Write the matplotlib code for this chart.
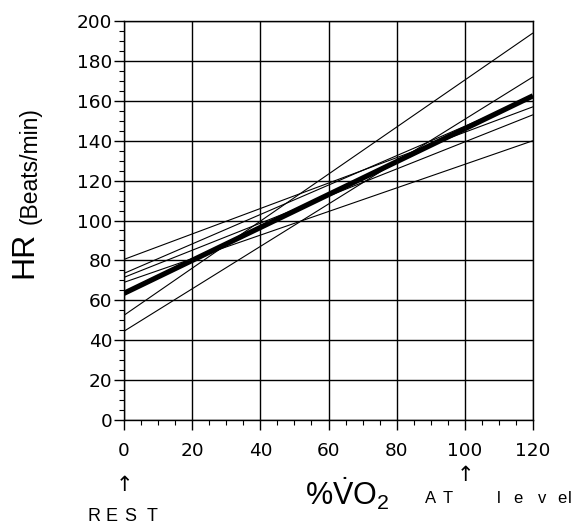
import matplotlib
matplotlib.use("Agg")
import matplotlib.pyplot as plt
from matplotlib.ticker import MultipleLocator

plt.rcParams['font.family'] = ['Liberation Sans', 'DejaVu Sans']
plt.rcParams['mathtext.fontset'] = 'custom'
plt.rcParams['mathtext.rm'] = 'Liberation Sans'
plt.rcParams['mathtext.it'] = 'Liberation Sans'

# %VO2 range of the regression lines (REST to 120 %)
x_range = [0, 120]
# individual regression lines: HR at 0 % and at 120 %
individual_start = [80.5, 73.5, 71.5, 69, 52.5, 44.5]
individual_end = [157, 162, 153, 140, 194, 172]
# mean regression line
mean_start = 63.5
mean_end = 162.5

x_ticks = [0, 20, 40, 60, 80, 100, 120]
y_ticks = [0, 20, 40, 60, 80, 100, 120, 140, 160, 180, 200]

W, H = 573, 526
fig = plt.figure(figsize=(W / 100, H / 100), dpi=100)
ax = fig.add_axes([124 / W, 1 - 420 / H, (533 - 124) / W, (420 - 21) / H])

for s, e in zip(individual_start, individual_end):
    ax.plot(x_range, [s, e], color='black', lw=0.8, solid_capstyle='butt')
ax.plot(x_range, [mean_start, mean_end], color='black', lw=3.8, solid_capstyle='butt')

ax.set_xlim(0, 120)
ax.set_ylim(0, 200)
ax.set_xticks(x_ticks)
ax.set_yticks(y_ticks)
ax.xaxis.set_minor_locator(MultipleLocator(5))
ax.yaxis.set_minor_locator(MultipleLocator(5))
ax.grid(True, which='major', color='black', lw=1.0)
ax.tick_params(which='major', direction='out', length=7, width=1)
ax.tick_params(axis='x', which='major', pad=9)
ax.tick_params(axis='y', which='major', pad=1.5)
ax.tick_params(which='minor', direction='out', length=3.5, width=0.8)
for lab in ax.get_xticklabels() + ax.get_yticklabels():
    lab.set_fontfamily('DejaVu Sans')
    lab.set_fontsize(13.3)
for sp in ax.spines.values():
    sp.set_linewidth(1.0)

# Y label
fig.text(32 / W, 1 - 278 / H, 'HR', rotation=90, rotation_mode='anchor', ha='left',
         va='baseline', fontsize=23)
fig.text(37 / W, 1 - 224 / H, '(Beats/min)', rotation=90, rotation_mode='anchor', ha='left',
         va='baseline', fontsize=16.5)

# X label
fig.text(305 / W, 1 - 505 / H, r'$\%\dot{\mathrm{V}}\mathrm{O}_2$', fontsize=22,
         ha='left', va='baseline')

at_chars = ['A', 'T', 'l', 'e', 'v', 'e', 'l']
at_pos = [430.7, 447.3, 498.3, 518.3, 541.7, 561.7, 569.5]
for c, px in zip(at_chars, at_pos):
    fig.text(px / W, 1 - 503 / H, c, fontsize=12, ha='center', va='baseline')

rest_chars = ['R', 'E', 'S', 'T']
rest_pos = [93.7, 111.7, 130.0, 152.3]
for c, px in zip(rest_chars, rest_pos):
    fig.text(px / W, 1 - 521 / H, c, fontsize=13, ha='center', va='baseline')

fig.text(124 / W, 1 - 491 / H, '↑', fontsize=15, ha='center', va='baseline',
         family=['DejaVu Sans'])
fig.text(465 / W, 1 - 481 / H, '↑', fontsize=15, ha='center', va='baseline',
         family=['DejaVu Sans'])

fig.savefig('out.png', dpi=100)
